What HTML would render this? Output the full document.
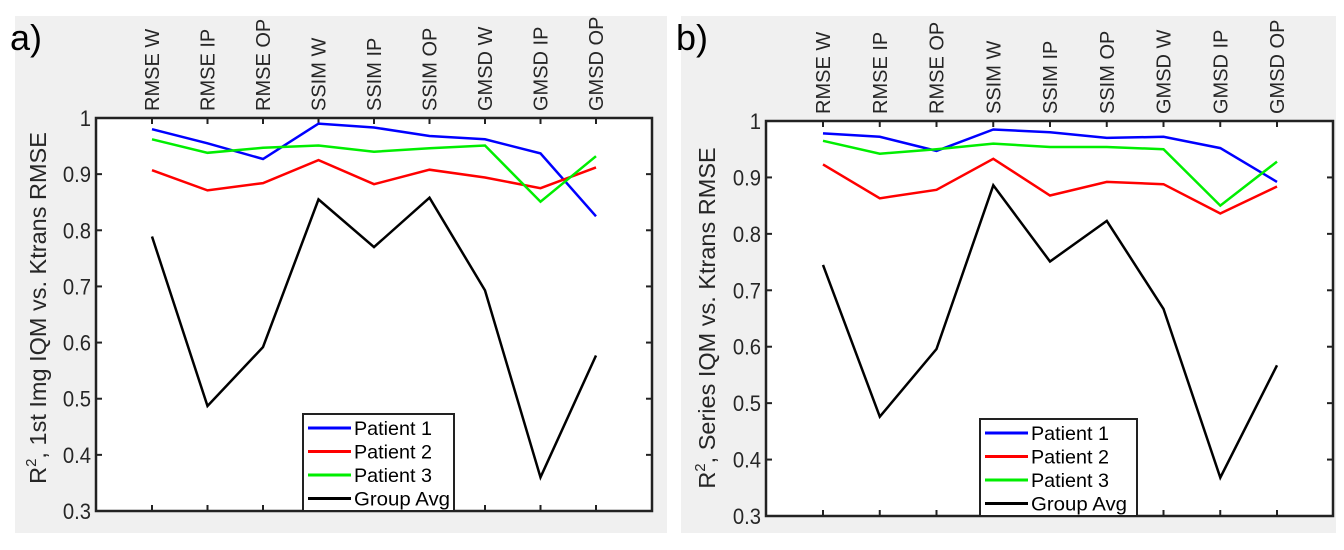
<!DOCTYPE html>
<html><head><meta charset="utf-8"><style>
html,body{margin:0;padding:0;background:#fff;}
svg{display:block;font-family:"Liberation Sans","DejaVu Sans",sans-serif;}
</style></head><body>
<svg id="chart" width="1344" height="550" viewBox="0 0 1344 550" xmlns="http://www.w3.org/2000/svg"></svg>
<script>
const categories = ["RMSE W","RMSE IP","RMSE OP","SSIM W","SSIM IP","SSIM OP","GMSD W","GMSD IP","GMSD OP"];
const yTicks = [0.3,0.4,0.5,0.6,0.7,0.8,0.9,1];
const yTickLabels = ["0.3","0.4","0.5","0.6","0.7","0.8","0.9","1"];
const seriesNames = ["Patient 1","Patient 2","Patient 3","Group Avg"];
const seriesColors = ["#0000ff","#ff0000","#00ee00","#000000"];
const a_p1 = [0.980,0.955,0.927,0.990,0.983,0.968,0.962,0.937,0.825];
const a_p2 = [0.907,0.871,0.884,0.925,0.882,0.908,0.894,0.875,0.912];
const a_p3 = [0.962,0.938,0.947,0.951,0.940,0.946,0.951,0.851,0.932];
const a_avg = [0.789,0.487,0.592,0.855,0.770,0.858,0.693,0.360,0.577];
const b_p1 = [0.978,0.972,0.947,0.985,0.980,0.970,0.972,0.952,0.892];
const b_p2 = [0.923,0.863,0.878,0.933,0.868,0.892,0.888,0.836,0.884];
const b_p3 = [0.965,0.942,0.950,0.960,0.954,0.954,0.950,0.850,0.928];
const b_avg = [0.745,0.476,0.596,0.886,0.751,0.823,0.667,0.368,0.567];

const NS="http://www.w3.org/2000/svg";
const svg=document.getElementById('chart');
function mk(tag,attrs,parent,text){const e=document.createElementNS(NS,tag);for(const k in attrs)e.setAttribute(k,attrs[k]);if(text!==undefined)e.textContent=text;(parent||svg).appendChild(e);return e;}

function panel(cfg){
  const g=mk('g',{});
  
  
  const bg=mk('rect',{x:cfg.bg[0],y:cfg.bg[1],width:cfg.bg[2],height:cfg.bg[3],fill:'#f0f0f0'},g);
  
  
  const lab=mk('text',{x:cfg.bg[0]-5,y:50,'font-size':36,fill:'#000'},g,cfg.letter);
  
  
  const L=cfg.ax[0],T=cfg.ax[1],R=cfg.ax[2],B=cfg.ax[3];
  const pr=mk('rect',{x:L,y:T,width:R-L,height:B-T,fill:'#fff'},g);
  
  
  const n=categories.length;
  const xs=i=>cfg.x0+(cfg.x1-cfg.x0)*i/(n-1);
  const ys=v=>B-(v-0.3)/(1-0.3)*(B-T);
  yTicks.forEach((v,i)=>{
    const y=ys(v);
    mk('line',{x1:L,x2:L+6,y1:y,y2:y,stroke:'#222','stroke-width':2},g);
    mk('line',{x1:R,x2:R-6,y1:y,y2:y,stroke:'#222','stroke-width':2},g);
    const t=mk('text',{x:L-5,y:y+8,'text-anchor':'end','font-size':22,fill:'#262626',transform:`scale(0.92,1)`, 'transform-origin':`${L-5}px ${y}px`},g,yTickLabels[i]);
    
    
  });
  categories.forEach((c,i)=>{
    const x=xs(i);
    mk('line',{x1:x,x2:x,y1:T,y2:T+6,stroke:'#222','stroke-width':2},g);
    mk('line',{x1:x,x2:x,y1:B,y2:B-6,stroke:'#222','stroke-width':2},g);
    const t=mk('text',{x:0,y:0,transform:`translate(${x+7},${T-7}) rotate(-90)`,'font-size':20,fill:'#262626'},g,c);
    
    
  });
  cfg.series.forEach((arr,si)=>{
    const pts=arr.map((v,i)=>xs(i).toFixed(1)+','+ys(v).toFixed(1)).join(' ');
    const p=mk('polyline',{points:pts,fill:'none',stroke:seriesColors[si],'stroke-width':2.5},g);
    
    
  });
  const fr=mk('rect',{x:L,y:T,width:R-L,height:B-T,fill:'none',stroke:'#222','stroke-width':2.5},g);
  
  
  const yl=mk('text',{x:0,y:0,transform:`translate(${cfg.ylx},${cfg.ylc}) rotate(-90)`,'text-anchor':'middle','font-size':23.5,fill:'#262626'},g);
  
  
  mk('tspan',{},yl,'R');
  mk('tspan',{dy:-10,'font-size':15},yl,'2');
  mk('tspan',{dy:10},yl,cfg.ytitle);
  const [lx,ly,lw,lh]=cfg.leg;
  const lg=mk('g',{},g);
  
  
  mk('rect',{x:lx,y:ly,width:lw,height:lh,fill:'#fff',stroke:'#222','stroke-width':2},lg);
  seriesNames.forEach((s,i)=>{
    const y=ly+14+i*23.5;
    const e=mk('g',{},lg);
    
    
    mk('line',{x1:lx+5,x2:lx+48,y1:y,y2:y,stroke:seriesColors[i],'stroke-width':3},e);
    mk('text',{x:lx+51,y:y+7,'font-size':19.5,fill:'#000',textLength:s==='Group Avg'?96:78,lengthAdjust:'spacingAndGlyphs'},e,s);
  });
}
panel({name:'panel-a',letter:'a)',bg:[15,16,652,517],ax:[96,118,652,511],x0:152,x1:596,ylx:46,ylc:308,
  ytitle:', 1st Img IQM vs. Ktrans RMSE',series:[a_p1,a_p2,a_p3,a_avg],leg:[303,414,151,97]});
panel({name:'panel-b',letter:'b)',bg:[681,16,655,517],ax:[766,121,1333,516],x0:823,x1:1277,ylx:715,ylc:318,
  ytitle:', Series IQM vs. Ktrans RMSE',series:[b_p1,b_p2,b_p3,b_avg],leg:[980,419,157,97]});
</script>
</body></html>
